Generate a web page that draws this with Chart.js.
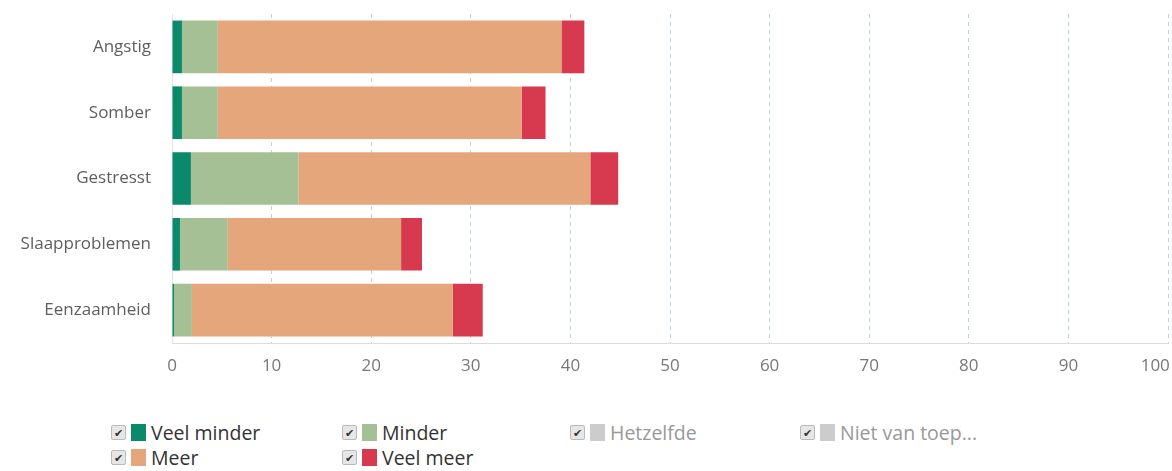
<!DOCTYPE html>
<html>
<head>
<meta charset="utf-8">
<script src="https://cdn.jsdelivr.net/npm/chart.js@4"></script>
<style>
  body { margin: 0; background: #fff; font-family: "Open Sans", "Noto Sans", sans-serif; overflow: hidden; }
  #wrap { position: relative; width: 1172px; height: 471px; overflow: hidden; }
  #box { position: absolute; left: 0; top: 0; width: 1172px; height: 403px; }
  #legend { position: absolute; left: 111px; top: 420px; display: grid;
            grid-template-columns: 231px 228px 230px 230px; grid-auto-rows: 25px; }
  .item { display: flex; align-items: center; font-size: 19.5px; color: #333; white-space: nowrap; }
  .item.off { color: #999; }
  .chk { width: 13px; height: 13px; border: 1px solid #bbb; background: #e6e6e6; border-radius: 2px;
         font-size: 11px; line-height: 13px; text-align: center; color: #333; margin-right: 5px; }
  .sw { width: 15px; height: 17px; margin-right: 5px; }
</style>
</head>
<body>
<div id="wrap">
  <div id="box"><canvas id="barchart"></canvas></div>
  <div id="legend"></div>
</div>
<script>
const categories = ['Angstig', 'Somber', 'Gestresst', 'Slaapproblemen', 'Eenzaamheid'];
const veelMinder = [1.0, 1.0, 1.9, 0.8, 0.2];
const minder = [3.6, 3.6, 10.8, 4.8, 1.8];
const meer = [34.5, 30.5, 29.3, 17.4, 26.2];
const veelMeer = [2.3, 2.4, 2.8, 2.1, 3.0];
const xTicks = [0, 10, 20, 30, 40, 50, 60, 70, 80, 90, 100];

const ctx = document.getElementById('barchart').getContext('2d');

const datasets = [
    { label: 'Veel minder', data: veelMinder, backgroundColor: '#0b8a6b' },
    { label: 'Minder', data: minder, backgroundColor: '#a6c096' },
    { label: 'Hetzelfde', data: [], backgroundColor: '#cccccc', hidden: true },
    { label: 'Niet van toep...', data: [], backgroundColor: '#cccccc', hidden: true },
    { label: 'Meer', data: meer, backgroundColor: '#e6a67b' },
    { label: 'Veel meer', data: veelMeer, backgroundColor: '#d7394f' }
];

const myBarChart = new Chart(ctx, {
    type: 'bar',
    data: { labels: categories, datasets: datasets },
    options: {
        indexAxis: 'y',
        responsive: true,
        maintainAspectRatio: false,
        animation: false,
        layout: { padding: { top: 14, right: 4, left: 0, bottom: 0 } },
        plugins: { legend: { display: false }, tooltip: { enabled: false } },
        datasets: { bar: { barPercentage: 0.8, categoryPercentage: 1.0 } },
        scales: {
            x: {
                stacked: true,
                min: 0,
                max: 100,
                afterBuildTicks: (axis) => { axis.ticks = xTicks.map(v => ({ value: v })); },
                afterFit: (axis) => { axis.height = 60; axis.paddingRight = 0; },
                grid: { color: '#bcd3de', drawTicks: false },
                border: { dash: [4, 4], color: '#dcdcdc' },
                ticks: {
                    color: '#777',
                    padding: 13,
                    font: { family: 'Open Sans', size: 17 },
                    // keep the last label inside the canvas
                    callback: (value) => value === 100 ? '100\u2002\u2002\u2002' : String(value)
                }
            },
            y: {
                stacked: true,
                afterFit: (axis) => { axis.width = 172; axis.paddingTop = 0; axis.paddingBottom = 0; },
                grid: { display: false, drawTicks: false },
                border: { color: '#e3e3e3' },
                ticks: { color: '#5e5e5e', padding: 21, font: { family: 'Open Sans', size: 17 } }
            }
        }
    }
});

// html legend with checkboxes
const legendEl = document.getElementById('legend');
datasets.forEach(ds => {
    const div = document.createElement('div');
    div.className = 'item' + (ds.hidden ? ' off' : '');
    div.innerHTML = `<span class="chk">&#10004;</span><span class="sw" style="background:${ds.backgroundColor}"></span>${ds.label}`;
    legendEl.appendChild(div);
});
</script>
</body>
</html>
